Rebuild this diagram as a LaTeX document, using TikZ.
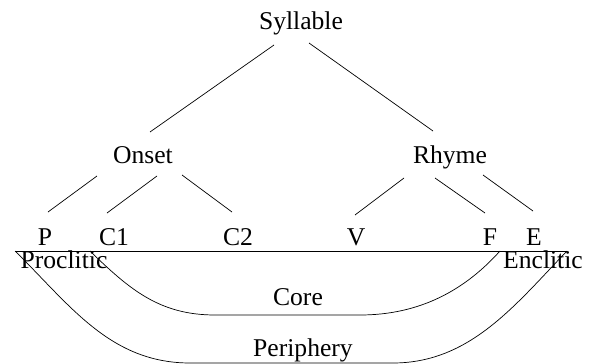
\documentclass[tikz,border=0pt]{standalone}
\usepackage{fontspec}
\setmainfont{Liberation Serif}
\usetikzlibrary{calc}
\begin{document}
\begin{tikzpicture}[x=0.5pt,y=-0.5pt,
  lab/.style={inner sep=0pt,anchor=base,font=\fontsize{12.8}{14}\selectfont},
  edge/.style={line width=0.35pt},
  arc/.style={line width=0.35pt}]
\useasboundingbox (0,0) rectangle (596,364);
\node[lab] (syl) at (301,30) {Syllable};
\node[lab] (ons) at (143,163) {Onset};
\node[lab] (rhy) at (450,163) {Rhyme};
\node[lab] (p) at (45,245) {P};
\node[lab] (c1) at (114,245) {C1};
\node[lab] (c2) at (238,245) {C2};
\node[lab] (v) at (356,245) {V};
\node[lab] (f) at (490,245) {F};
\node[lab] (e) at (534,245) {E};
\node[lab] (pro) at (64,268) {Proclitic};
\node[lab] (enc) at (543,268) {Enclitic};
\node[lab] (core) at (298,306) {Core};
\node[lab] (per) at (303,357) {Periphery};
\coordinate (L) at (15,251);
\coordinate (R) at (567,251);
\coordinate (cs) at (90,251);
\coordinate (ce) at (500,251);
% tree
\draw[edge] ($(syl.base)+(-27,15)$) -- ($(ons.base)+(7,-31)$);
\draw[edge] ($(syl.base)+(8,13)$) -- ($(rhy.base)+(-17,-32)$);
\draw[edge] ($(ons.base)+(-46,13)$) -- ($(p.base)+(3,-33)$);
\draw[edge] ($(ons.base)+(14,13)$) -- ($(c1.base)+(-7,-32)$);
\draw[edge] ($(ons.base)+(39,12)$) -- ($(c2.base)+(-6,-33)$);
\draw[edge] ($(rhy.base)+(-46,15)$) -- ($(v.base)+(-1,-30)$);
\draw[edge] ($(rhy.base)+(-15,15)$) -- ($(f.base)+(-5,-32)$);
\draw[edge] ($(rhy.base)+(33,12)$) -- ($(e.base)+(-1,-34)$);
% baseline
\draw[edge] (L) -- (R);
% core arc
\draw[arc] (cs) .. controls (130,290) and (160,315) .. (215,315) -- (360,315)
  .. controls (420,315) and (465,290) .. (ce);
% periphery arc
\draw[arc] (L) .. controls (70,305) and (110,363) .. (190,363) -- (393,363)
  .. controls (470,363) and (515,305) .. (R);
\end{tikzpicture}
\end{document}
